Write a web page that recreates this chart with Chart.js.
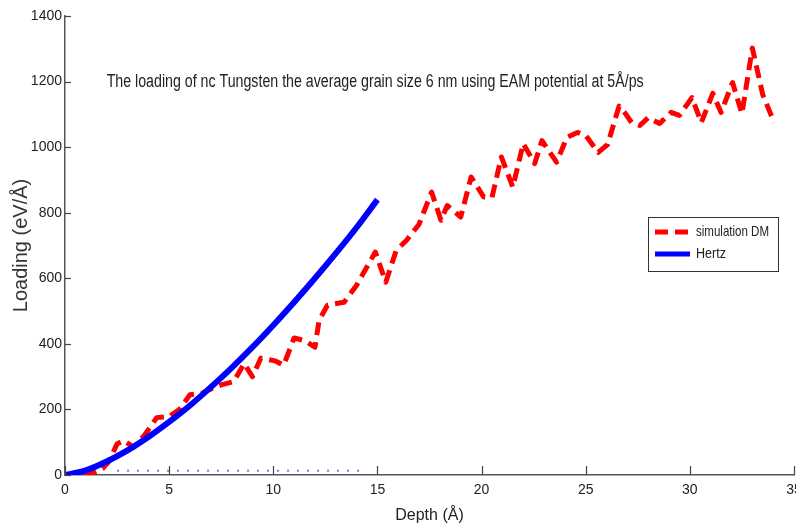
<!DOCTYPE html>
<html>
<head>
<meta charset="utf-8">
<script src="https://cdn.jsdelivr.net/npm/chart.js@4"></script>
<style>
  body { margin: 0; background: #ffffff; }
  #wrap { width: 796px; height: 527px; }
</style>
</head>
<body>
<div id="wrap"><canvas id="loadChart" width="796" height="527"></canvas></div>
<script>
// Данные: симуляция (Å, эВ/Å)
const simDepth = [0.9, 1.3, 1.8, 2.1, 2.5, 2.8, 3.3, 3.8, 4.4, 5.0, 5.5, 6.0, 6.6, 7.0, 7.5, 8.1, 8.6, 9.0, 9.4, 10.1,
  10.5, 11.0, 11.5, 12.0, 12.2, 12.6, 13.4, 14.0, 14.9, 15.4, 15.9, 16.4, 17.0, 17.6, 18.05, 18.35, 19.0, 19.5, 20.1, 20.5,
  20.95, 21.5, 22.0, 22.55, 22.9, 23.6, 24.1, 24.6, 25.0, 25.6, 26.05, 26.6, 26.9, 27.2, 27.6, 28.0, 28.55, 29.1, 29.5, 30.1,
  30.55, 31.1, 31.5, 32.05, 32.5, 33.0, 33.5, 34.05];
const simLoad = [0, 5, 20, 40, 95, 105, 85, 120, 175, 178, 200, 245, 250, 262, 275, 285, 340, 300, 356, 348,
  335, 418, 410, 390, 472, 518, 527, 579, 680, 588, 685, 716, 765, 863, 777, 822, 787, 909, 848, 847,
  970, 878, 1011, 950, 1020, 954, 1030, 1045, 1036, 984, 1008, 1125, 1103, 1075, 1066, 1090, 1072, 1106, 1097, 1151,
  1075, 1164, 1106, 1197, 1102, 1302, 1160, 1075];

// Кривая Герца
const hertzDepth = [0, 1, 2, 3, 4, 5, 6, 7, 8, 9, 10, 11, 12, 13, 14, 15];
const hertzLoad = [0, 14, 41, 75, 116, 162, 212, 268, 327, 390, 457, 527, 600, 676, 755, 840];

// пунктир у нуля
const dotDepth = [2.5, 14.5];
const dotLoad = [13, 13];

const xTicks = [0, 5, 10, 15, 20, 25, 30, 35];
const yTicks = [0, 200, 400, 600, 800, 1000, 1200, 1400];

const titleText = "The loading of nc Tungsten the average grain size 6 nm using EAM potential at 5Å/ps";
const sans = "'Liberation Sans', Arial, sans-serif";

function toPoints(xs, ys) {
    return xs.map((x, i) => ({ x: x, y: ys[i] }));
}

// узкий текст (Arial Narrow нет, сжимаем вручную)
function narrowText(ctx, text, x, y, width) {
    const w = ctx.measureText(text).width;
    ctx.save();
    ctx.translate(x, y);
    ctx.scale(width / w, 1);
    ctx.fillText(text, 0, 0);
    ctx.restore();
}

// засечки внутрь, подпись и легенда
const extrasPlugin = {
    id: "extras",
    afterDraw(chart) {
        const ctx = chart.ctx;
        const xs = chart.scales.x;
        const ys = chart.scales.y;
        const area = chart.chartArea;
        ctx.save();
        ctx.strokeStyle = "#444";
        ctx.lineWidth = 1.2;
        xTicks.forEach((t) => {
            const px = Math.round(xs.getPixelForValue(t)) + 0.5;
            ctx.beginPath();
            ctx.moveTo(px, area.bottom);
            ctx.lineTo(px, area.bottom - 9);
            ctx.stroke();
        });
        yTicks.forEach((t) => {
            const py = Math.round(ys.getPixelForValue(t)) + 0.5;
            ctx.beginPath();
            ctx.moveTo(area.left, py);
            ctx.lineTo(area.left + 6, py);
            ctx.stroke();
        });

        // заголовок внутри графика
        ctx.fillStyle = "#222";
        ctx.font = "18px " + sans;
        ctx.textAlign = "left";
        ctx.textBaseline = "middle";
        narrowText(ctx, titleText, xs.getPixelForValue(2), ys.getPixelForValue(1200), 537);

        // легенда
        const bx = 648, by = 217, bw = 130, bh = 54;
        ctx.fillStyle = "#ffffff";
        ctx.fillRect(bx, by, bw, bh);
        ctx.strokeStyle = "#333";
        ctx.lineWidth = 1;
        ctx.strokeRect(bx + 0.5, by + 0.5, bw, bh);
        ctx.font = "15px " + sans;
        const labelW = [73, 30];
        chart.data.datasets.slice(0, 2).forEach((ds, i) => {
            const ly = by + 15 + i * 22;
            ctx.strokeStyle = ds.borderColor;
            ctx.lineWidth = 5;
            ctx.setLineDash(ds.borderDash || []);
            ctx.beginPath();
            ctx.moveTo(bx + 7, ly);
            ctx.lineTo(bx + 42, ly);
            ctx.stroke();
            ctx.setLineDash([]);
            ctx.fillStyle = "#222";
            narrowText(ctx, ds.label, bx + 48, ly, labelW[i]);
        });
        ctx.restore();
    },
};

const ctxLoad = document.getElementById("loadChart").getContext("2d");
new Chart(ctxLoad, {
    type: "line",
    data: {
        datasets: [
            {
                label: "simulation DM",
                data: toPoints(simDepth, simLoad),
                borderColor: "#ff0000",
                borderWidth: 5,
                borderDash: [13, 7],
                borderJoinStyle: "round",
                pointRadius: 0,
                tension: 0,
                order: 1,
            },
            {
                label: "Hertz",
                data: toPoints(hertzDepth, hertzLoad),
                borderColor: "#0000ff",
                borderWidth: 6,
                pointRadius: 0,
                cubicInterpolationMode: "monotone",
                order: 0,
            },
            {
                label: "",
                data: toPoints(dotDepth, dotLoad),
                borderColor: "rgba(60,60,255,0.7)",
                borderWidth: 2,
                borderDash: [2, 8],
                pointRadius: 0,
                order: 2,
            },
        ],
    },
    options: {
        responsive: false,
        animation: false,
        layout: { padding: { top: 16, right: 2, left: 0, bottom: 0 } },
        plugins: {
            legend: { display: false },
            tooltip: { enabled: false },
        },
        scales: {
            x: {
                type: "linear",
                min: 0,
                max: 35,
                grid: { display: false, drawTicks: false },
                border: { display: true, color: "#555", width: 1.5 },
                ticks: {
                    stepSize: 5,
                    padding: 7,
                    color: "#222",
                    maxRotation: 0,
                    font: { family: sans, size: 14 },
                    callback: (v) => String(v),
                },
                title: {
                    display: true,
                    text: "Depth (Å)",
                    color: "#222",
                    padding: { top: 0, bottom: 2 },
                    font: { family: sans, size: 16 },
                },
                afterFit(scale) {
                    scale.height = 52;
                    scale.paddingLeft = 0;
                    scale.paddingRight = 0;
                },
            },
            y: {
                type: "linear",
                min: 0,
                max: 1400,
                grid: { display: false, drawTicks: false },
                border: { display: true, color: "#555", width: 1.5 },
                ticks: {
                    stepSize: 200,
                    padding: 3,
                    color: "#222",
                    font: { family: sans, size: 14 },
                    callback: (v) => String(v),
                },
                title: {
                    display: true,
                    text: "Loading (eV/Å)",
                    color: "#333",
                    padding: { top: 9, bottom: 0 },
                    font: { family: sans, size: 20 },
                },
                afterFit(scale) {
                    scale.width = 65;
                    scale.paddingTop = 0;
                    scale.paddingBottom = 0;
                },
            },
        },
    },
    plugins: [extrasPlugin],
});
</script>
</body>
</html>
